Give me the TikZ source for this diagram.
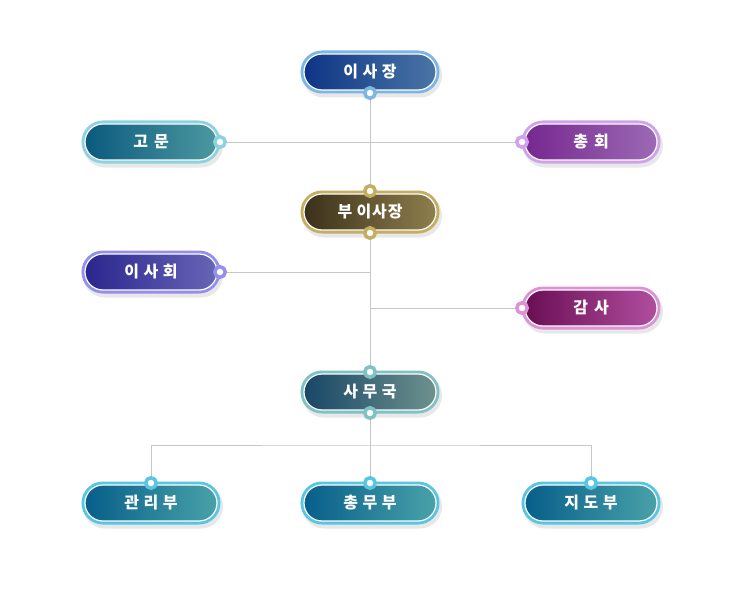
\documentclass[tikz,border=0pt]{standalone}
\usepackage{fontspec}
\newfontfamily\krfont[LetterSpace=5]{Noto Sans CJK KR}
\usetikzlibrary{shapes.misc,shadows,backgrounds}

\definecolor{isajangL}{HTML}{0E3585}
\definecolor{isajangR}{HTML}{4A75A5}
\definecolor{isajangB}{HTML}{7DB5E3}
\definecolor{gomunL}{HTML}{0B5A7E}
\definecolor{gomunR}{HTML}{4C98A0}
\definecolor{gomunB}{HTML}{8DD2E2}
\definecolor{chonghoeL}{HTML}{76278F}
\definecolor{chonghoeR}{HTML}{9C6AB5}
\definecolor{chonghoeB}{HTML}{CFA3EC}
\definecolor{busajangL}{HTML}{3B301A}
\definecolor{busajangR}{HTML}{8F7F4D}
\definecolor{busajangB}{HTML}{C4AE62}
\definecolor{isahoeL}{HTML}{2A268E}
\definecolor{isahoeR}{HTML}{6865B6}
\definecolor{isahoeB}{HTML}{9290EA}
\definecolor{gamsaL}{HTML}{6A0E55}
\definecolor{gamsaR}{HTML}{B04E9E}
\definecolor{gamsaB}{HTML}{DC93D6}
\definecolor{samugukL}{HTML}{184766}
\definecolor{samugukR}{HTML}{6E918E}
\definecolor{samugukB}{HTML}{80C2C4}
\definecolor{buL}{HTML}{075E8A}
\definecolor{buR}{HTML}{49A2A8}
\definecolor{buB}{HTML}{58C6E2}

\tikzstyle{line} = [draw, black!22, line width=0.8pt]
\tikzstyle{pill} = [rounded rectangle, minimum width=132pt, minimum height=36pt, inner sep=0pt, draw=white, line width=1.2pt, text=white, font=\krfont\bfseries\fontsize{16}{16}\selectfont, preaction={draw=black!9, fill=black!9, line width=8pt, transform canvas={shift={(2pt,-3.5pt)}}}, node distance=140pt]
\tikzstyle{pill_isajang} = [pill, preaction={draw=isajangB, line width=7pt}, left color=isajangL, right color=isajangR]
\tikzstyle{pill_gomun} = [pill, preaction={draw=gomunB, line width=7pt}, left color=gomunL, right color=gomunR]
\tikzstyle{pill_chonghoe} = [pill, preaction={draw=chonghoeB, line width=7pt}, left color=chonghoeL, right color=chonghoeR]
\tikzstyle{pill_busajang} = [pill, preaction={draw=busajangB, line width=7pt}, left color=busajangL, middle color=busajangL!80!busajangR, right color=busajangR]
\tikzstyle{pill_isahoe} = [pill, preaction={draw=isahoeB, line width=7pt}, left color=isahoeL, right color=isahoeR]
\tikzstyle{pill_gamsa} = [pill, preaction={draw=gamsaB, line width=7pt}, left color=gamsaL, right color=gamsaR]
\tikzstyle{pill_samuguk} = [pill, preaction={draw=samugukB, line width=7pt}, left color=samugukL, right color=samugukR]
\tikzstyle{pill_bu} = [pill, preaction={draw=buB, line width=7pt}, left color=buL, right color=buR]
\tikzstyle{dot} = [circle, fill=white, line width=3.5pt, minimum size=10.5pt, inner sep=0pt, node distance=21pt]

\begin{document}
\begin{tikzpicture}[x=1pt, y=1pt]
\useasboundingbox (0,0) rectangle (740,-610);

\node [pill_isajang] (isajang) at (370,-72) {이 사 장};
\node [pill_gomun, below of=isajang, node distance=70pt, xshift=-219pt] (gomun) {고\hspace{6pt}문};
\node [pill_chonghoe, below of=isajang, node distance=70pt, xshift=221pt] (chonghoe) {총\hspace{6pt}회};
\node [pill_busajang, below of=isajang] (busajang) {부 이사장};
\node [pill_isahoe, below of=busajang, node distance=60pt, xshift=-219pt] (isahoe) {이 사 회};
\node [pill_gamsa, below of=busajang, node distance=96pt, xshift=221pt] (gamsa) {감\hspace{6pt}사};
\node [pill_samuguk, below of=busajang, node distance=180pt] (samuguk) {사 무 국};

\node [pill_bu, below of=samuguk, node distance=111pt] (chongmu) {총 무 부};
\node [pill_bu, left of=chongmu, node distance=219pt] (gwanri) {관 리 부};
\node [pill_bu, right of=chongmu, node distance=221pt] (jido) {지 도 부};

% connector dots
\node [dot, draw=isajangB, below of=isajang] (isajang_s) {};
\node [dot, draw=gomunB, right of=gomun, node distance=69pt] (gomun_e) {};
\node [dot, draw=chonghoeB, left of=chonghoe, node distance=69pt] (chonghoe_w) {};
\node [dot, draw=busajangB, above of=busajang] (busajang_n) {};
\node [dot, draw=busajangB, below of=busajang] (busajang_s) {};
\node [dot, draw=isahoeB, right of=isahoe, node distance=69pt] (isahoe_e) {};
\node [dot, draw=gamsaB, left of=gamsa, node distance=69pt] (gamsa_w) {};
\node [dot, draw=samugukB, above of=samuguk, node distance=20pt] (samuguk_n) {};
\node [dot, draw=samugukB, below of=samuguk] (samuguk_s) {};
\node [dot, draw=buB, above of=gwanri, node distance=20pt] (gwanri_n) {};
\node [dot, draw=buB, above of=chongmu, node distance=20pt] (chongmu_n) {};
\node [dot, draw=buB, above of=jido, node distance=20pt] (jido_n) {};

\coordinate [below of=samuguk_s, node distance=32pt] (branch);

\begin{scope}[on background layer]
\path [line] (isajang_s) -- (busajang_n);
\path [line] (gomun_e) -- (chonghoe_w);
\path [line] (busajang_s) -- (samuguk_n);
\path [line] (isahoe_e) -- (isahoe_e -| busajang_s);
\path [line] (gamsa_w) -- (gamsa_w -| busajang_s);
\path [line] (samuguk_s) -- (chongmu_n);
\path [line] (gwanri_n) |- (branch) -| (jido_n);
\end{scope}

\end{tikzpicture}
\end{document}
